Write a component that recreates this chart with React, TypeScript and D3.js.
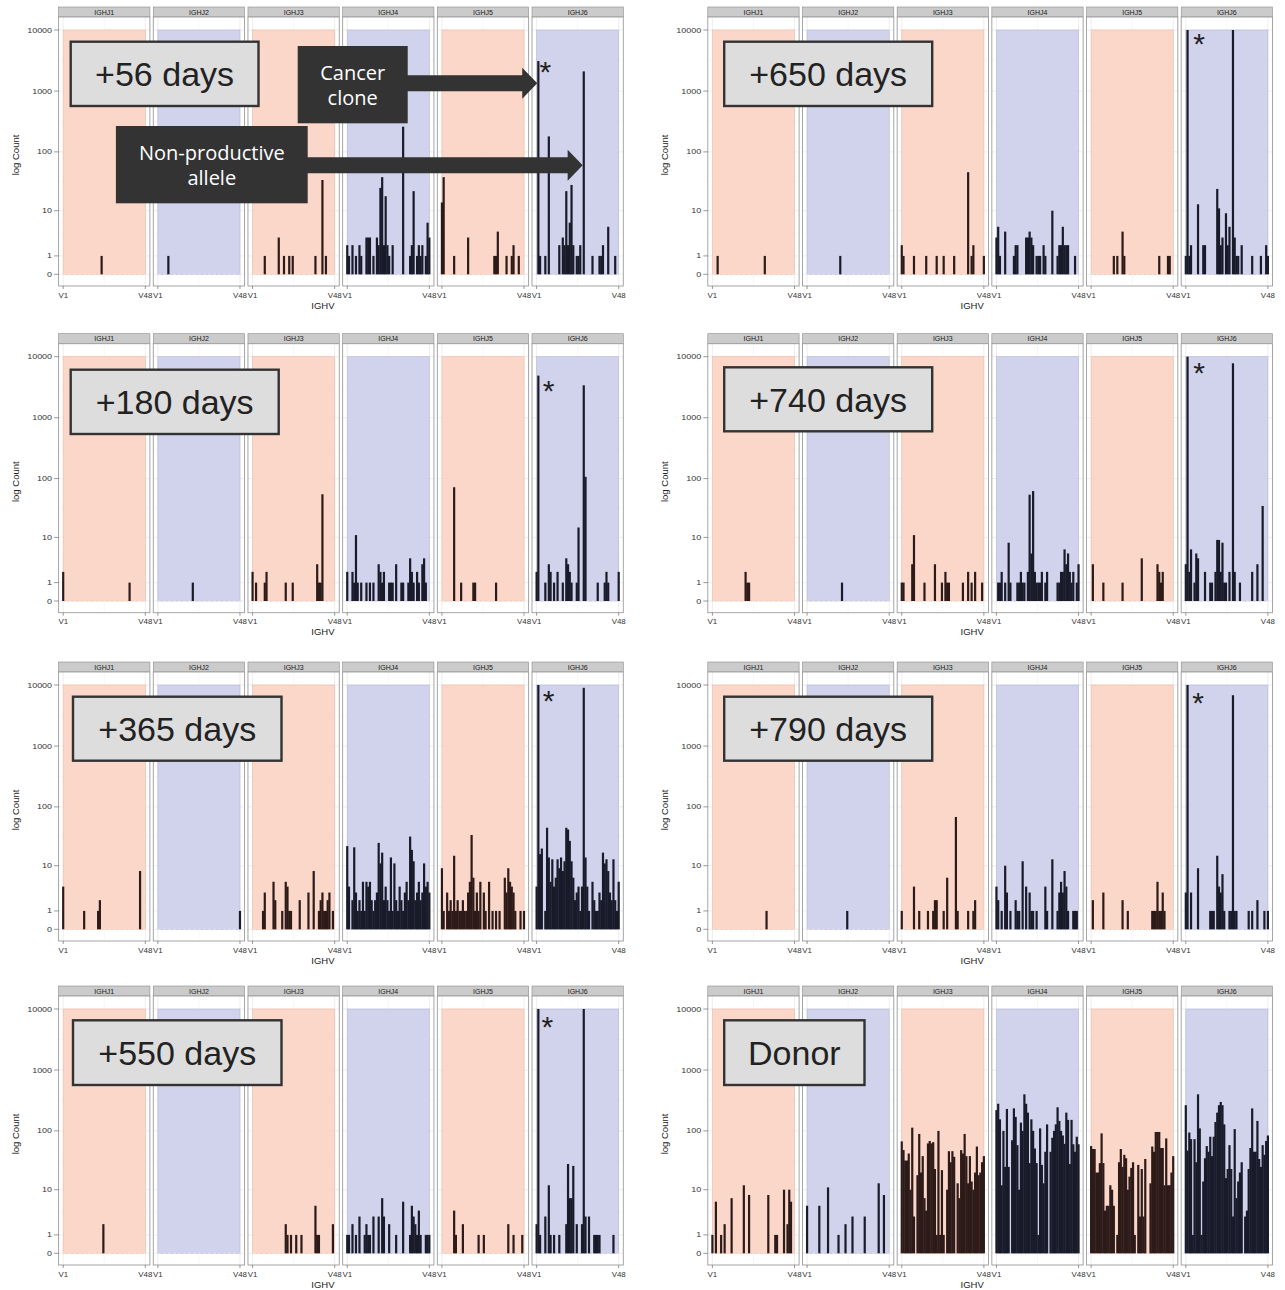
import React, { useEffect, useRef } from 'react';
import * as d3 from 'd3';

// IGHV genes on x (only V1 and V48 are labelled), IGHJ genes as facets
const V_GENES = d3.range(1, 49).map(i => `V${i}`);
const X_BREAKS = ['V1', 'V48'];
const J_GENES = ['IGHJ1', 'IGHJ2', 'IGHJ3', 'IGHJ4', 'IGHJ5', 'IGHJ6'];
const Y_BREAKS = [0, 1, 10, 100, 1000, 10000];

// read counts, one row of 48 V genes per J gene
const day56 = [
  [0,0,0,0,0,0,0,0,0,0,0,0, 0,0,0,0,0,0,0,0,0,0,1,0, 0,0,0,0,0,0,0,0,0,0,0,0, 0,0,0,0,0,0,0,0,0,0,0,0],
  [0,0,0,0,0,0,1,0,0,0,0,0, 0,0,0,0,0,0,0,0,0,0,0,0, 0,0,0,0,0,0,0,0,0,0,0,0, 0,0,0,0,0,0,0,0,0,0,0,0],
  [0,0,0,0,0,0,0,1,0,0,0,0, 0,0,0,3,0,0,1,0,0,1,0,1, 0,0,0,0,0,0,0,0,0,0,0,0, 1,0,0,0,34,0,1,0,0,0,0,0],
  [2,1,0,2,0,1,0,2,1,0,0,3, 3,3,0,1,0,3,2,25,38,2,18,2, 1,0,2,0,0,0,0,0,260,0,0,0, 1,2,22,0,1,2,1,2,0,1,6,3],
  [14,38,0,0,0,0,0,1,0,0,0,0, 0,0,0,3,0,0,0,0,0,0,0,0, 0,0,0,0,0,0,1,1,4,0,0,0, 0,1,0,0,1,2,0,0,1,0,0,0],
  [0,3100,1,0,0,1,0,180,0,0,0,0, 0,2,0,3,2,22,2,6,28,2,0,1, 1,2,0,2100,0,0,0,0,1,0,0,0, 1,1,2,0,0,5,0,0,0,1,0,0],
];

const day650 = [
  [0,0,0,1,0,0,0,0,0,0,0,0, 0,0,0,0,0,0,0,0,0,0,0,0, 0,0,0,0,0,0,1,0,0,0,0,0, 0,0,0,0,0,0,0,0,0,0,0,0],
  [0,0,0,0,0,0,0,0,0,0,0,0, 0,0,0,0,0,0,0,1,0,0,0,0, 0,0,0,0,0,0,0,0,0,0,0,0, 0,0,0,0,0,0,0,0,0,0,0,0],
  [2,1,0,0,0,0,0,1,0,0,0,0, 0,0,1,0,0,0,0,0,1,0,0,0, 1,0,0,0,0,0,1,0,0,0,0,0, 0,0,46,0,1,2,0,0,0,0,0,1],
  [3,5,1,0,0,4,0,0,0,0,1,2, 2,0,0,0,0,3,3,4,3,2,0,1, 1,1,0,2,1,0,0,0,10,0,0,1, 2,2,5,2,2,2,0,0,0,1,0,0],
  [0,0,0,0,0,0,0,0,0,0,0,0, 0,1,0,1,0,0,4,1,0,0,0,0, 0,0,0,0,0,0,0,0,0,0,0,0, 0,0,0,1,0,0,0,0,1,1,0,0],
  [1,10000,1,2,0,0,0,13,0,0,2,2, 0,0,0,0,0,0,24,11,2,3,0,9, 2,5,0,10000,3,1,1,0,2,0,0,0, 0,0,1,0,0,0,0,1,0,0,2,1],
];

const day180 = [
  [2,0,0,0,0,0,0,0,0,0,0,0, 0,0,0,0,0,0,0,0,0,0,0,0, 0,0,0,0,0,0,0,0,0,0,0,0, 0,0,1,0,0,0,0,0,0,0,0,0],
  [0,0,0,0,0,0,0,0,0,0,0,0, 0,0,0,0,0,0,0,0,1,0,0,0, 0,0,0,0,0,0,0,0,0,0,0,0, 0,0,0,0,0,0,0,0,0,0,0,0],
  [2,0,1,0,0,0,0,1,2,0,0,0, 0,0,0,0,0,0,0,1,0,0,0,1, 0,0,0,0,0,0,0,0,0,0,0,0, 0,3,1,1,55,0,0,0,0,0,0,0],
  [2,0,0,2,1,11,1,0,1,0,0,1, 0,1,0,1,0,0,3,2,1,2,0,0, 1,1,1,0,3,0,0,1,1,0,0,1, 4,2,1,0,2,1,0,3,4,1,0,0],
  [0,0,0,0,0,0,0,72,0,0,0,1, 0,0,0,0,0,0,1,1,0,0,0,0, 0,0,0,0,0,0,0,1,0,0,0,0, 0,0,0,0,0,0,0,0,0,0,0,0],
  [2,4900,0,0,0,1,0,3,2,0,1,0, 2,0,0,1,0,4,3,2,1,0,0,1, 15,0,0,3400,107,0,0,0,0,0,0,1, 0,0,0,1,2,1,0,0,0,0,0,2],
];

const day740 = [
  [0,0,0,0,0,0,0,0,0,0,0,0, 0,0,0,0,0,0,0,2,1,1,0,0, 0,0,0,0,0,0,0,0,0,0,0,0, 0,0,0,0,0,0,0,0,0,0,0,0],
  [0,0,0,0,0,0,0,0,0,0,0,0, 0,0,0,0,0,0,0,0,1,0,0,0, 0,0,0,0,0,0,0,0,0,0,0,0, 0,0,0,0,0,0,0,0,0,0,0,0],
  [1,1,0,0,0,0,3,11,0,0,0,0, 0,1,0,0,0,0,0,3,0,0,0,1, 0,2,1,1,0,0,0,0,0,0,0,1, 0,0,2,0,1,0,2,0,0,0,1,0],
  [0,1,1,2,0,1,0,8,1,0,0,0, 1,1,2,1,1,0,2,54,5,62,2,1, 1,1,2,0,1,2,0,0,0,0,0,1, 1,2,2,6,3,5,2,1,2,0,1,3],
  [0,3,0,0,0,0,0,1,0,0,0,0, 0,0,0,0,0,0,1,0,0,0,0,0, 0,0,0,0,0,4,0,0,0,0,0,0, 0,0,3,2,1,2,0,0,0,0,0,0],
  [3,10000,2,6,0,1,5,4,0,0,0,2, 0,0,1,1,0,2,9,9,2,8,1,1, 0,2,0,7800,2,0,0,1,0,0,0,0, 0,0,2,0,0,3,0,0,35,0,0,0],
];

const day365 = [
  [4,0,0,0,0,0,0,0,0,0,0,0, 1,0,0,0,0,0,0,0,1,2,0,0, 0,0,0,0,0,0,0,0,0,0,0,0, 0,0,0,0,0,0,0,0,8,0,0,0],
  [0,0,0,0,0,0,0,0,0,0,0,0, 0,0,0,0,0,0,0,0,0,0,0,0, 0,0,0,0,0,0,0,0,0,0,0,0, 0,0,0,0,0,0,0,0,0,0,0,1],
  [0,0,0,0,0,0,1,3,0,0,0,0, 5,2,0,0,0,1,0,5,4,1,1,0, 0,0,0,2,0,0,0,0,3,0,0,8, 0,0,1,2,3,1,1,2,3,0,1,0],
  [22,4,0,2,21,3,1,2,1,5,1,5, 4,5,2,1,2,3,25,11,17,2,4,2, 1,14,1,11,2,1,4,2,1,3,5,2, 32,19,12,2,3,5,2,3,11,4,5,3],
  [9,1,0,3,1,2,1,15,1,2,1,1, 2,1,1,3,5,34,6,1,3,1,5,0, 3,1,0,5,0,1,0,1,0,1,0,0, 6,3,9,5,4,3,1,0,0,1,0,1],
  [4,10000,16,20,0,1,45,14,5,13,4,6, 13,9,14,8,12,45,42,27,12,6,2,3, 4,1,4,9000,14,4,1,0,5,2,1,1, 3,2,17,11,13,8,3,2,13,2,1,5],
];

const day790 = [
  [0,0,0,0,0,0,0,0,0,0,0,0, 0,0,0,0,0,0,0,0,0,0,0,0, 0,0,0,0,0,0,0,1,0,0,0,0, 0,0,0,0,0,0,0,0,0,0,0,0],
  [0,0,0,0,0,0,0,0,0,0,0,0, 0,0,0,0,0,0,0,0,0,0,0,1, 0,0,0,0,0,0,0,0,0,0,0,0, 0,0,0,0,0,0,0,0,0,0,0,0],
  [1,0,0,0,0,0,0,4,0,0,1,0, 0,0,0,1,0,0,1,2,2,0,0,0, 1,0,6,0,0,0,0,68,1,0,0,0, 0,0,1,0,0,1,2,0,0,0,0,0],
  [4,2,0,1,0,10,3,0,1,0,0,2, 1,1,0,12,0,4,0,3,1,1,0,1, 0,0,0,0,4,1,0,0,13,0,0,1, 3,5,3,8,4,1,0,0,1,1,1,0],
  [0,2,0,0,0,0,0,3,0,0,0,0, 0,0,0,0,0,0,2,0,0,1,0,0, 0,0,0,0,0,0,0,0,0,0,0,1, 1,1,5,1,1,3,1,0,0,0,0,0],
  [3,10000,0,3,0,0,0,9,0,0,0,0, 0,0,1,1,1,0,15,4,3,7,1,0, 0,1,1,6800,1,1,0,0,0,0,0,0, 1,0,1,0,0,2,0,0,0,1,0,1],
];

const day550 = [
  [0,0,0,0,0,0,0,0,0,0,0,0, 0,0,0,0,0,0,0,0,0,0,0,2, 0,0,0,0,0,0,0,0,0,0,0,0, 0,0,0,0,0,0,0,0,0,0,0,0],
  [0,0,0,0,0,0,0,0,0,0,0,0, 0,0,0,0,0,0,0,0,0,0,0,0, 0,0,0,0,0,0,0,0,0,0,0,0, 0,0,0,0,0,0,0,0,0,0,0,0],
  [0,0,0,0,0,0,0,0,0,0,0,0, 0,0,0,0,0,0,0,2,1,0,1,0, 0,1,0,0,1,0,0,0,0,0,0,0, 5,1,1,0,0,0,0,0,0,0,2,0],
  [1,1,0,2,0,1,0,3,0,0,1,2, 1,1,0,3,0,0,3,0,7,3,0,0, 2,0,0,0,1,0,0,0,6,0,0,0, 1,5,3,2,1,4,1,0,0,1,1,1],
  [0,0,0,0,0,0,0,4,1,0,0,0, 2,0,0,0,0,0,0,0,0,1,0,0, 1,0,0,0,0,0,0,0,0,0,0,0, 0,0,2,0,0,1,0,0,0,0,1,0],
  [2,10000,1,0,0,3,0,12,1,0,1,0, 0,1,0,0,0,2,28,7,7,26,0,2, 0,0,2,10000,3,0,3,0,0,1,1,1, 1,0,0,0,0,0,0,0,1,0,0,0],
];

const donor = [
  [1,0,6,0,0,1,0,2,0,0,0,7, 0,0,0,0,0,0,12,0,0,8,0,0, 0,0,0,0,0,0,0,0,8,0,0,0, 1,1,0,0,0,10,0,2,10,6,0,0],
  [5,0,0,0,0,0,0,5,0,0,0,0, 11,0,0,0,0,0,1,0,0,0,2,0, 0,0,3,0,0,0,0,0,0,3,0,0, 0,0,0,0,0,13,0,0,8,0,0,0],
  [67,48,32,32,42,10,113,3,0,18,89,20, 38,7,4,62,68,62,65,23,1,100,1,22, 1,0,10,46,30,46,37,0,13,7,48,42, 89,38,13,38,14,10,20,55,18,20,30,38],
  [220,280,155,12,100,25,230,25,0,70,235,170, 58,10,137,100,400,280,200,29,155,100,51,29, 1,110,27,13,45,128,0,45,77,100,128,245, 146,100,84,61,200,152,28,152,60,45,80,60],
  [56,50,50,20,20,29,91,29,4,5,5,12, 10,5,0,1,30,50,25,40,35,10,17,24, 30,1,0,27,3,23,3,34,0,0,13,55, 45,96,96,96,52,52,12,75,12,12,20,38],
  [265,47,94,73,1,73,30,400,110,1,14,35, 56,45,80,38,80,140,200,265,300,265,128,16, 23,58,23,3,107,7,14,20,30,0,3,4, 23,52,235,45,45,146,34,25,58,40,68,84],
];

// page layout
const COL_X = [58.6, 707.8];          // left edge of the IGHJ1 facet
const ROW_Y = [30, 356.7, 685, 1009]; // y of the 10000 gridline
const FACET_W = 91.3;
const FACET_STEP = 94.68;
const X_PAD = 4.6;
const BAR_W = 2.2;
const FONT = 'Liberation Sans, Arial, Helvetica, sans-serif';

const PANELS = [
  { label: '+56 days', counts: day56, col: 0, row: 0, box: [12.1, 11.7, 187.8, 64.3], star: [13.4, 35] },
  { label: '+650 days', counts: day650, col: 1, row: 0, box: [16.4, 11.7, 208, 64.3], star: [17.8, 6.7] },
  { label: '+180 days', counts: day180, col: 0, row: 1, box: [12.1, 13, 208, 64.3], star: [16.7, 27] },
  { label: '+740 days', counts: day740, col: 1, row: 1, box: [16.4, 10.6, 208, 64], star: [17.8, 9] },
  { label: '+365 days', counts: day365, col: 0, row: 2, box: [14.4, 11.7, 208.5, 64], star: [16.7, 9] },
  { label: '+790 days', counts: day790, col: 1, row: 2, box: [16.4, 11.7, 208, 64], star: [17, 10.7] },
  { label: '+550 days', counts: day550, col: 0, row: 3, box: [14.4, 11.3, 208.5, 64.7], star: [15.3, 11] },
  { label: 'Donor', counts: donor, col: 1, row: 3, box: [16.4, 11.3, 140.3, 64.7], star: null },
];

const FILL = ['#fad1c1', '#cbcce8'];
const EDGE = ['#f0b9a6', '#b6b8da'];
const BAR = ['#2d1b19', '#1a1b2a'];

function drawPanel(root: any, p: any) {
  const left = COL_X[p.col];
  const top = ROW_Y[p.row];
  const g = root.append('g');

  const y = d3.scaleSymlog().constant(1).domain([0, 10000]).range([top + 244.3, top]);
  const pTop = top - 13;
  const pBot = top + 256;
  const majorY = Y_BREAKS.map(v => y(v));
  const minorY = d3.pairs(majorY).map(([a, b]) => (a + b) / 2);
  const xScales: any[] = [];

  J_GENES.forEach((jg, k) => {
    const fl = left + k * FACET_STEP;
    const x = d3.scaleLinear().domain([1, V_GENES.length]).range([fl + X_PAD, fl + FACET_W - X_PAD]);
    xScales.push(x);
    const tone = k % 2;

    // strip
    g.append('rect').attr('x', fl).attr('y', top - 23).attr('width', FACET_W).attr('height', 10)
      .attr('fill', '#cbcbcb').attr('stroke', '#8c8c8c').attr('stroke-width', 0.6);
    g.append('text').attr('x', fl + FACET_W / 2).attr('y', top - 15.5).attr('text-anchor', 'middle')
      .attr('font-family', FONT).attr('font-size', 7).attr('fill', '#1a1a1a').text(jg);

    // panel background and grid
    g.append('rect').attr('x', fl).attr('y', pTop).attr('width', FACET_W).attr('height', pBot - pTop).attr('fill', '#fff');
    g.selectAll(null).data(minorY).join('line')
      .attr('x1', fl).attr('x2', fl + FACET_W).attr('y1', d => d).attr('y2', d => d)
      .attr('stroke', '#f2f2f2').attr('stroke-width', 0.5);
    g.selectAll(null).data(majorY).join('line')
      .attr('x1', fl).attr('x2', fl + FACET_W).attr('y1', d => d).attr('y2', d => d)
      .attr('stroke', '#e2e2e2').attr('stroke-width', 0.6);
    g.selectAll(null).data([1, 24.5, 48]).join('line')
      .attr('x1', d => x(d)).attr('x2', d => x(d)).attr('y1', pTop).attr('y2', pBot)
      .attr('stroke', d => (d === 24.5 ? '#f2f2f2' : '#e2e2e2')).attr('stroke-width', 0.6);

    // J gene band
    g.append('rect').attr('x', x(1)).attr('y', y(10000)).attr('width', x(48) - x(1)).attr('height', y(0) - y(10000))
      .attr('fill', FILL[tone]).attr('fill-opacity', 0.88).attr('stroke', EDGE[tone]).attr('stroke-width', 0.6);
    g.append('line').attr('x1', x(1)).attr('x2', x(48)).attr('y1', y(0)).attr('y2', y(0))
      .attr('stroke', '#fff').attr('stroke-opacity', 0.6).attr('stroke-width', 0.8).attr('stroke-dasharray', '3 2');

    // bars
    const rows = p.counts[k].map((v: number, i: number) => ({ v, i })).filter((d: any) => d.v > 0);
    g.selectAll(null).data(rows).join('rect')
      .attr('x', (d: any) => x(d.i + 1) - BAR_W / 2)
      .attr('y', (d: any) => y(d.v))
      .attr('width', BAR_W)
      .attr('height', (d: any) => y(0) - y(d.v))
      .attr('fill', BAR[tone]);

    // panel border
    g.append('rect').attr('x', fl).attr('y', pTop).attr('width', FACET_W).attr('height', pBot - pTop)
      .attr('fill', 'none').attr('stroke', '#9c9c9c').attr('stroke-width', 0.9);

    // x axis
    X_BREAKS.forEach(lab => {
      const xv = x(V_GENES.indexOf(lab) + 1);
      g.append('line').attr('x1', xv).attr('x2', xv).attr('y1', pBot).attr('y2', pBot + 3)
        .attr('stroke', '#555').attr('stroke-width', 0.6);
      g.append('text').attr('transform', `translate(${xv},${top + 267.5}) scale(1.1,1)`).attr('text-anchor', 'middle')
        .attr('font-family', FONT).attr('font-size', 7.2).attr('fill', '#333').text(lab);
    });
  });

  // y axis
  Y_BREAKS.forEach(v => {
    g.append('line').attr('x1', left - 4.5).attr('x2', left).attr('y1', y(v)).attr('y2', y(v))
      .attr('stroke', '#555').attr('stroke-width', 0.6);
    g.append('text').attr('transform', `translate(${left - 6.5},${y(v) + 2.5}) scale(1.25,1)`).attr('text-anchor', 'end')
      .attr('font-family', FONT).attr('font-size', 7.2).attr('fill', '#333').text(v);
  });

  const right = left + 5 * FACET_STEP + FACET_W;
  g.append('text').attr('x', (left + right) / 2 - 18).attr('y', top + 278.5).attr('text-anchor', 'middle')
    .attr('font-family', FONT).attr('font-size', 9.5).attr('fill', '#222').text('IGHV');
  g.append('text').attr('transform', `translate(${left - 40},${top + 125}) rotate(-90)`)
    .attr('text-anchor', 'middle').attr('font-family', FONT).attr('font-size', 9.5).attr('fill', '#222').text('log Count');

  // time point label
  const [bx, by, bwid, bh] = p.box;
  g.append('rect').attr('x', left + bx).attr('y', top + by).attr('width', bwid).attr('height', bh)
    .attr('fill', '#dddddd').attr('stroke', '#333').attr('stroke-width', 2.4);
  g.append('text').attr('x', left + bx + bwid / 2).attr('y', top + by + bh / 2 + 12.2).attr('text-anchor', 'middle')
    .attr('font-family', FONT).attr('font-size', 34).attr('fill', '#222').text(p.label);

  if (p.star) {
    const fl6 = left + 5 * FACET_STEP;
    g.append('text').attr('x', fl6 + p.star[0]).attr('y', top + p.star[1] + 17.3).attr('text-anchor', 'middle')
      .attr('font-family', FONT).attr('font-size', 30).attr('fill', '#222').text('*');
  }

  return { left, top, x6: xScales[5] };
}

function drawCallout(root: any, left: number, top: number, box: number[], lines: string[], tipX: number, cy: number) {
  const [bx, by, bwid, bh] = box;
  const g = root.append('g');
  const x0 = left + bx + bwid;
  const yc = top + cy;
  const shaft = 8;
  const head = 15.5;
  const headLen = 15;
  const pts = [
    [x0 - 1, yc - shaft], [tipX - headLen, yc - shaft], [tipX - headLen, yc - head], [tipX, yc],
    [tipX - headLen, yc + head], [tipX - headLen, yc + shaft], [x0 - 1, yc + shaft],
  ];
  g.append('polygon').attr('points', pts.map(d => d.join(',')).join(' ')).attr('fill', '#333');
  g.append('rect').attr('x', left + bx).attr('y', top + by).attr('width', bwid).attr('height', bh).attr('fill', '#333');
  lines.forEach((t, i) => {
    g.append('text').attr('x', left + bx + bwid / 2).attr('y', top + by + 34 + i * 25).attr('text-anchor', 'middle')
      .attr('font-family', 'Open Sans, Noto Sans, sans-serif').attr('font-size', 20).attr('fill', '#fff').text(t);
  });
}

export default function App() {
  const svgRef = useRef<SVGSVGElement>(null);

  useEffect(() => {
    const svg = d3.select(svgRef.current);
    svg.selectAll('*').remove();
    svg.append('rect').attr('width', 1285).attr('height', 1290).attr('fill', '#fff');

    const first = PANELS.map(p => drawPanel(svg, p))[0];
    // callouts on the first time point
    drawCallout(svg, first.left, first.top, [57.3, 96, 191.8, 77.3], ['Non-productive', 'allele'], first.x6(28) - BAR_W / 2, 135.3);
    drawCallout(svg, first.left, first.top, [239.1, 16, 110, 77.3], ['Cancer', 'clone'], first.x6(2) - BAR_W / 2, 53.3);
  }, []);

  return (
    <svg ref={svgRef} width={1285} height={1290} style={{ position: 'absolute', left: 0, top: 0 }} />
  );
}
